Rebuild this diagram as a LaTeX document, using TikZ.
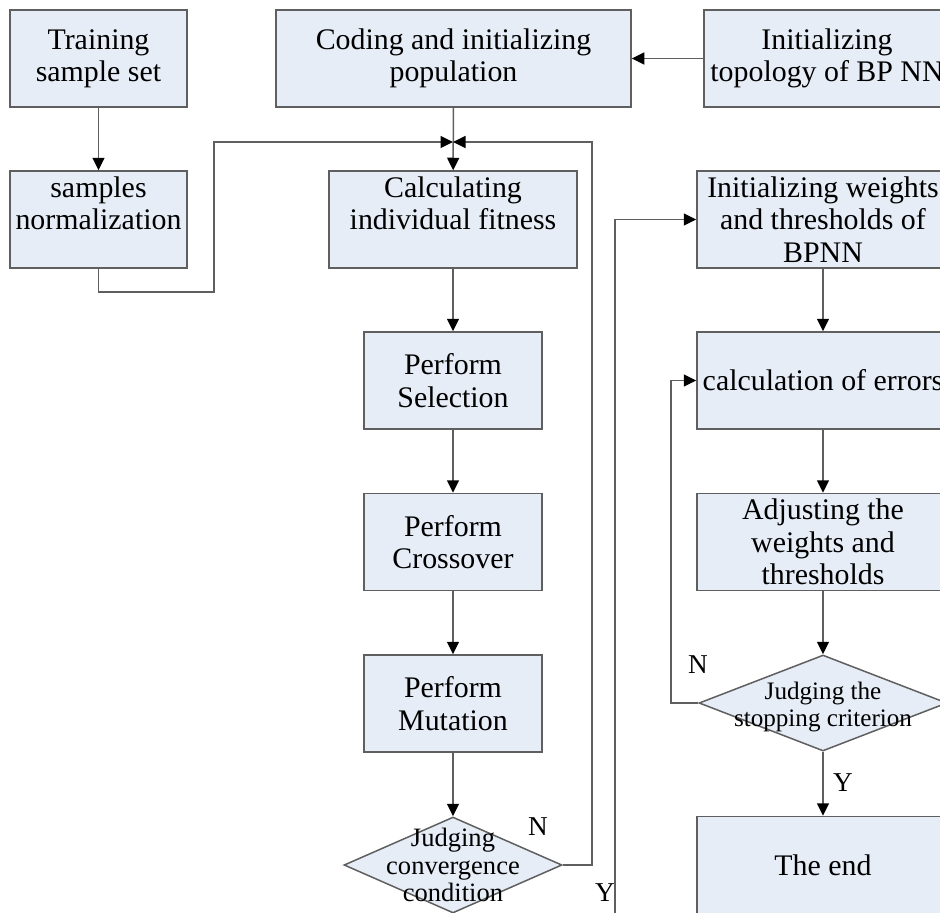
\documentclass[tikz,border=0pt]{standalone}
\usepackage{fontspec}
\setmainfont{Liberation Serif}
\usetikzlibrary{shapes.geometric,arrows.meta}
\definecolor{boxfill}{RGB}{230,237,247}
\definecolor{linegray}{RGB}{95,95,95}
\tikzset{
  box/.style={draw=linegray, fill=boxfill, line width=0.3mm, minimum height=19.4mm, inner sep=0pt, align=center, font=\fontsize{17}{18.4}\selectfont},
  judge/.style={draw=linegray, fill=boxfill, line width=0.3mm, diamond, inner sep=0pt, minimum height=19.2mm},
  judgetext/.style={align=center, inner sep=0pt},
  flow/.style={draw=linegray, line width=0.3mm, -{Triangle[length=2.5mm,width=2.4mm,color=black]}},
  tag/.style={font=\fontsize{15.5}{18}\selectfont}
}

\begin{document}
\begin{tikzpicture}[x=0.2mm, y=-0.2mm]
\useasboundingbox (0,0) rectangle (940,912);
\clip (0,0) rectangle (940,912);

\node[box, minimum width=35.4mm] (A) at (98.5,58.5) {Training\\sample set};
\node[box, minimum width=35.4mm] (B) at (98.5,219.5) {samples\\normalization\\~};
\node[box, minimum width=71mm] (C) at (453.5,58.5) {Coding and initializing\\population};
\node[box, minimum width=49.2mm] (D) at (827,58.5) {Initializing\\topology of BP NN};
\node[box, minimum width=49.6mm] (E) at (453,219.5) {Calculating\\individual fitness\\~};
\node[box, minimum width=35.6mm] (F) at (453,380.5) {Perform\\Selection};
\node[box, minimum width=35.6mm] (G) at (453,542) {Perform\\Crossover};
\node[box, minimum width=35.6mm] (H) at (453,703.5) {Perform\\Mutation};
\node[judge, minimum width=43.6mm, label={[judgetext, font=\fontsize{15.1}{15.8}\selectfont]center:Judging\\convergence\\condition}] (I) at (453,865) {};
\node[box, minimum width=50.4mm] (J) at (823,219.5) {Initializing weights\\and thresholds of\\BPNN};
\node[box, minimum width=50.4mm] (K) at (823,380.5) {calculation of errors};
\node[box, minimum width=50.4mm] (L) at (823,542) {Adjusting the\\weights and\\thresholds};
\node[judge, minimum width=49.6mm, label={[judgetext, yshift=-0.8mm, font=\fontsize{14.3}{15.8}\selectfont]center:Judging the\\stopping criterion}] (M) at (823,703) {};
\node[box, minimum width=50.4mm] (N) at (823,865) {The end};

\coordinate (P) at (453,142);
\coordinate (Q) at (214,292);
\coordinate (R) at (592,142);
\coordinate (S) at (615,935);
\coordinate (T) at (671,703);

\draw[flow] (A) -- (B);
\draw[flow] (D) -- (C);
\draw[flow] (C) -- (E);
\draw[flow] (B) |- (Q) |- (P);
\draw[flow] (I.east) -| (R) -- (P);
\draw[flow] (E) -- (F);
\draw[flow] (F) -- (G);
\draw[flow] (G) -- (H);
\draw[flow] (H) -- (I);
\draw[flow] (I.south) |- (S) |- (J.west);
\draw[flow] (J) -- (K);
\draw[flow] (K) -- (L);
\draw[flow] (L) -- (M);
\draw[flow] (M) -- (N);
\draw[flow] (M.west) -- (T) |- (K.west);

\node[tag] (n1) at (538,827) {N};
\node[tag] (y1) at (605,893) {Y};
\node[tag] (n2) at (698,665) {N};
\node[tag] (y2) at (843,783) {Y};
\end{tikzpicture}
\end{document}
